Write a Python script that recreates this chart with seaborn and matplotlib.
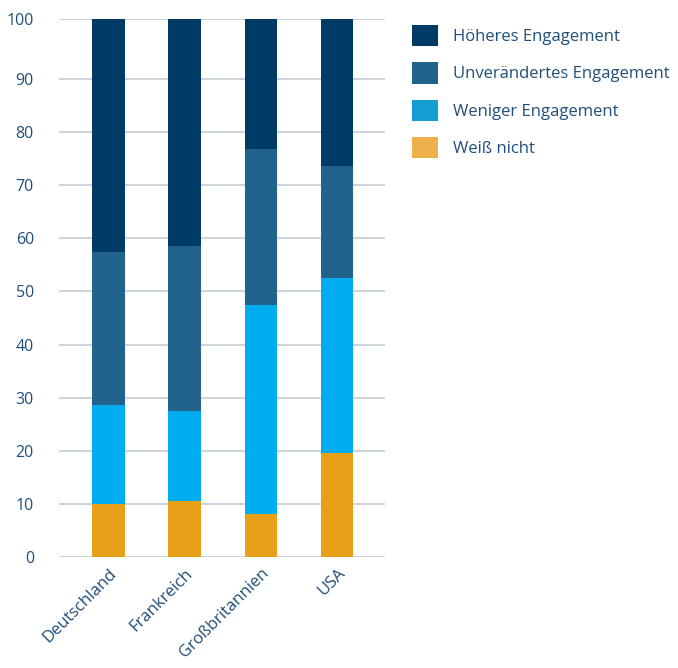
import numpy as np
import pandas as pd
import matplotlib
matplotlib.use("Agg")
import matplotlib.pyplot as plt
import seaborn as sns
from matplotlib.patches import Patch

# Werte (Anteile je Land)
laender = ["Deutschland", "Frankreich", "Großbritannien", "USA"]
weiss_nicht = [10.0, 10.6, 8.1, 19.5]
weniger = [18.7, 16.9, 39.4, 33.1]
unveraendert = [28.7, 31.0, 29.3, 21.0]
hoeher = [43.9, 42.8, 24.5, 27.7]

serien = ["Höheres Engagement", "Unverändertes Engagement", "Weniger Engagement", "Weiß nicht"]
farben = ["#003A66", "#21638C", "#00AEEF", "#E8A018"]
legenden_farben = ["#003A66", "#21638C", "#139FD4", "#EDB04A"]
y_ticks = [0, 10, 20, 30, 40, 50, 60, 70, 80, 90]
y_tick_labels = ["0", "10", "20", "30", "40", "50", "60", "70", "80", "90", "100"]

text_farbe = "#1F4E79"

df = pd.DataFrame({
    "Land": laender,
    "Weiß nicht": weiss_nicht,
    "Weniger Engagement": weniger,
    "Unverändertes Engagement": unveraendert,
    "Höheres Engagement": hoeher,
})

# kumulierte Summen für das Stapeln (von unten nach oben)
stapel = ["Weiß nicht", "Weniger Engagement", "Unverändertes Engagement", "Höheres Engagement"]
kum = df[stapel].cumsum(axis=1)
kum["Land"] = df["Land"]

sns.set_style("white")
plt.rcParams["font.family"] = ["Open Sans", "DejaVu Sans"]

fig = plt.figure(figsize=(6.78, 6.68), dpi=100)
ax = fig.add_axes([0.087, 0.166, 0.481, 0.806])

# größte Summe zuerst zeichnen, dann darüber die kleineren
for name, farbe in zip(serien, farben):
    sns.barplot(data=kum, x="Land", y=name, color=farbe, width=0.43,
                saturation=1, linewidth=0, edgecolor="none", ax=ax, zorder=3)

oben = kum["Höheres Engagement"].max()
ax.set_ylim(0, oben)
ax.set_xlim(-0.65, 3.63)
ax.set_yticks(y_ticks + [oben])
ax.set_yticklabels(y_tick_labels)
ax.yaxis.grid(True, color="#CDD4DC", linewidth=1.5, zorder=0)
ax.set_axisbelow(True)
for s in ax.spines.values():
    s.set_visible(False)
ax.tick_params(axis="both", length=0, colors=text_farbe, labelsize=11.5)
ax.tick_params(axis="y", pad=18)
ax.tick_params(axis="x", pad=6)
ax.set_xlabel("")
ax.set_ylabel("")
for lab in ax.get_xticklabels():
    lab.set_rotation(45)
    lab.set_ha("right")
    lab.set_rotation_mode("anchor")
    lab.set_fontsize(12)

handles = [Patch(facecolor=c, edgecolor="none") for c in legenden_farben]
leg = fig.legend(handles, serien, loc="upper left", bbox_to_anchor=(0.585, 0.985),
                 frameon=False, fontsize=12, handlelength=1.6, handleheight=1.6,
                 labelspacing=0.95, handletextpad=0.9)
for t in leg.get_texts():
    t.set_color(text_farbe)

fig.savefig("out.png", dpi=100)
